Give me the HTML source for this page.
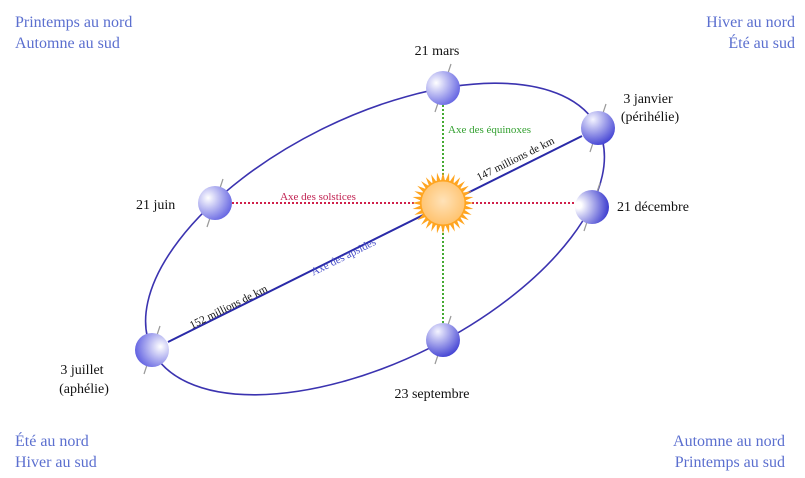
<!DOCTYPE html>
<html><head><meta charset="utf-8"><style>
html,body{margin:0;padding:0;background:#fff}
svg{display:block}
text{font-family:"Liberation Serif",serif}
.c{fill:#5b6fcf;font-size:16px}
.k{fill:#111;font-size:14px}
</style></head><body>
<svg width="805" height="478" viewBox="0 0 805 478" xmlns="http://www.w3.org/2000/svg">
<defs>
<radialGradient id="gL" cx="0.3" cy="0.35" r="0.8"><stop offset="0" stop-color="#ffffff"/><stop offset="1" stop-color="#5a5ae0"/></radialGradient>
<radialGradient id="gR" cx="0.75" cy="0.4" r="0.8"><stop offset="0" stop-color="#ffffff"/><stop offset="1" stop-color="#5a5ae0"/></radialGradient>
<radialGradient id="gB" cx="0.35" cy="0.25" r="0.85"><stop offset="0" stop-color="#f4f4ff"/><stop offset="1" stop-color="#3535d0"/></radialGradient>
<radialGradient id="gD" cx="0.1" cy="0.45" r="0.95"><stop offset="0.1" stop-color="#ffffff"/><stop offset="1" stop-color="#3030cc"/></radialGradient>
<radialGradient id="sun" cx="0.5" cy="0.45" r="0.6"><stop offset="0" stop-color="#ffe2b8"/><stop offset="1" stop-color="#ffc068"/></radialGradient>
<polygon id="ray" points="-2.5,-20 0,-31 2.5,-20" fill="#ffa520"/>
</defs>
<ellipse cx="375" cy="239" rx="249" ry="122" transform="rotate(-26.5 375 239)" fill="none" stroke="#3b33b0" stroke-width="1.6"/>
<line x1="443" y1="105" x2="443" y2="323" stroke="#44aa33" stroke-width="2" stroke-dasharray="2,2"/>
<line x1="232" y1="203" x2="575" y2="203" stroke="#d0204a" stroke-width="2" stroke-dasharray="2,2"/>
<line x1="168" y1="342" x2="582" y2="136" stroke="#2a2aa8" stroke-width="2"/>
<g transform="translate(443 203)">
<use href="#ray" transform="rotate(0)"/><use href="#ray" transform="rotate(11.25)"/><use href="#ray" transform="rotate(22.5)"/><use href="#ray" transform="rotate(33.75)"/>
<use href="#ray" transform="rotate(45)"/><use href="#ray" transform="rotate(56.25)"/><use href="#ray" transform="rotate(67.5)"/><use href="#ray" transform="rotate(78.75)"/>
<use href="#ray" transform="rotate(90)"/><use href="#ray" transform="rotate(101.25)"/><use href="#ray" transform="rotate(112.5)"/><use href="#ray" transform="rotate(123.75)"/>
<use href="#ray" transform="rotate(135)"/><use href="#ray" transform="rotate(146.25)"/><use href="#ray" transform="rotate(157.5)"/><use href="#ray" transform="rotate(168.75)"/>
<use href="#ray" transform="rotate(180)"/><use href="#ray" transform="rotate(191.25)"/><use href="#ray" transform="rotate(202.5)"/><use href="#ray" transform="rotate(213.75)"/>
<use href="#ray" transform="rotate(225)"/><use href="#ray" transform="rotate(236.25)"/><use href="#ray" transform="rotate(247.5)"/><use href="#ray" transform="rotate(258.75)"/>
<use href="#ray" transform="rotate(270)"/><use href="#ray" transform="rotate(281.25)"/><use href="#ray" transform="rotate(292.5)"/><use href="#ray" transform="rotate(303.75)"/>
<use href="#ray" transform="rotate(315)"/><use href="#ray" transform="rotate(326.25)"/><use href="#ray" transform="rotate(337.5)"/><use href="#ray" transform="rotate(348.75)"/>
<circle r="23" fill="#ffa520"/>
<circle r="21.5" fill="url(#sun)"/>
</g>
<g stroke="#999" stroke-width="1.2">
<line x1="451" y1="64" x2="435" y2="112"/>
<line x1="606" y1="104" x2="590" y2="152"/>
<line x1="600" y1="183" x2="584" y2="231"/>
<line x1="223" y1="179" x2="207" y2="227"/>
<line x1="160" y1="326" x2="144" y2="374"/>
<line x1="451" y1="316" x2="435" y2="364"/>
</g>
<circle cx="443" cy="88" r="17" fill="url(#gL)"/>
<circle cx="598" cy="128" r="17" fill="url(#gB)"/>
<circle cx="592" cy="207" r="17" fill="url(#gD)"/>
<circle cx="215" cy="203" r="17" fill="url(#gL)"/>
<circle cx="152" cy="350" r="17" fill="url(#gR)"/>
<circle cx="443" cy="340" r="17" fill="url(#gB)"/>
<text x="318" y="200" font-size="11" fill="#c02050" text-anchor="middle">Axe des solstices</text>
<text x="448" y="133" font-size="11" fill="#33a030">Axe des équinoxes</text>
<text transform="translate(345 260) rotate(-26.5)" font-size="11" fill="#4a50c8" text-anchor="middle">Axe des apsides</text>
<text transform="translate(230 310) rotate(-26.5)" font-size="11" fill="#111" text-anchor="middle">152 millions de km</text>
<text transform="translate(517 162) rotate(-26.5)" font-size="11" fill="#111" text-anchor="middle">147 millions de km</text>
<text class="k" x="437" y="55" text-anchor="middle">21 mars</text>
<text class="k" x="648" y="103" text-anchor="middle">3 janvier</text>
<text class="k" x="650" y="121" text-anchor="middle">(périhélie)</text>
<text class="k" x="617" y="211">21 décembre</text>
<text class="k" x="136" y="209">21 juin</text>
<text class="k" x="82" y="374" text-anchor="middle">3 juillet</text>
<text class="k" x="84" y="393" text-anchor="middle">(aphélie)</text>
<text class="k" x="432" y="398" text-anchor="middle">23 septembre</text>
<text class="c" x="15" y="27">Printemps au nord</text>
<text class="c" x="15" y="48">Automne au sud</text>
<text class="c" x="795" y="27" text-anchor="end">Hiver au nord</text>
<text class="c" x="795" y="48" text-anchor="end">Été au sud</text>
<text class="c" x="15" y="446">Été au nord</text>
<text class="c" x="15" y="467">Hiver au sud</text>
<text class="c" x="785" y="446" text-anchor="end">Automne au nord</text>
<text class="c" x="785" y="467" text-anchor="end">Printemps au sud</text>
</svg>
</body></html>
